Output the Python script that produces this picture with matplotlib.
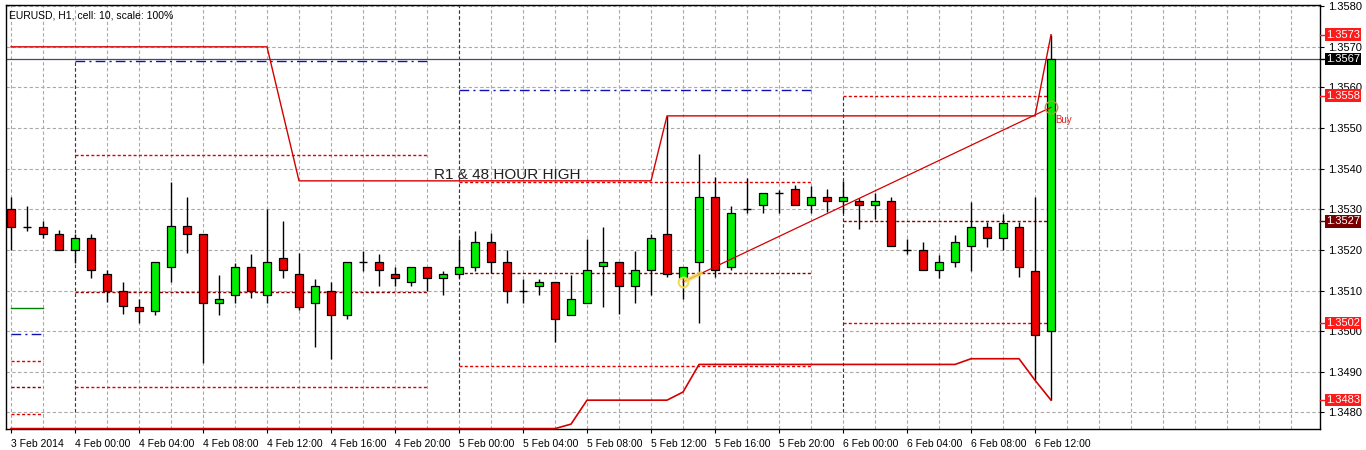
import matplotlib
matplotlib.use("Agg")
import matplotlib.pyplot as plt
from matplotlib.ticker import MultipleLocator, FormatStrFormatter

plt.rcParams['font.family'] = ['Liberation Sans', 'DejaVu Sans']

# EURUSD H1 candles, 3 Feb 20:00 .. 6 Feb 13:00 (one entry per hour)
opens = [1.35300, 1.35257, 1.35257, 1.35238, 1.35200, 1.35229, 1.35140, 1.35100, 1.35059, 1.35050,
         1.35159, 1.35259, 1.35239, 1.35069, 1.35089, 1.35159, 1.35089, 1.35180, 1.35140, 1.35069,
         1.35098, 1.35039, 1.35170, 1.35170, 1.35140, 1.35120, 1.35159, 1.35130, 1.35140, 1.35159,
         1.35219, 1.35170, 1.35099, 1.35111, 1.35120, 1.35039, 1.35069, 1.35161, 1.35170, 1.35111,
         1.35151, 1.35239, 1.35132, 1.35170, 1.35330, 1.35159, 1.35300, 1.35310, 1.35339, 1.35349,
         1.35310, 1.35330, 1.35320, 1.35320, 1.35310, 1.35320, 1.35200, 1.35200, 1.35151, 1.35170,
         1.35210, 1.35257, 1.35229, 1.35257, 1.35149, 1.35000]
highs = [1.35331, 1.35308, 1.35270, 1.35249, 1.35239, 1.35239, 1.35151, 1.35121, 1.35079, 1.35170,
         1.35368, 1.35331, 1.35239, 1.35139, 1.35167, 1.35190, 1.35300, 1.35270, 1.35192, 1.35129,
         1.35122, 1.35170, 1.35198, 1.35190, 1.35159, 1.35159, 1.35159, 1.35149, 1.35227, 1.35247,
         1.35241, 1.35200, 1.35129, 1.35128, 1.35120, 1.35139, 1.35227, 1.35256, 1.35170, 1.35198,
         1.35239, 1.35530, 1.35159, 1.35436, 1.35379, 1.35308, 1.35376, 1.35339, 1.35348, 1.35360,
         1.35358, 1.35349, 1.35370, 1.35327, 1.35339, 1.35330, 1.35226, 1.35219, 1.35188, 1.35237,
         1.35318, 1.35269, 1.35289, 1.35269, 1.35330, 1.35730]
lows = [1.35200, 1.35247, 1.35230, 1.35200, 1.35167, 1.35132, 1.35071, 1.35042, 1.35021, 1.35039,
        1.35120, 1.35192, 1.34921, 1.35039, 1.35069, 1.35081, 1.35069, 1.35132, 1.35052, 1.34960,
        1.34931, 1.35030, 1.35149, 1.35112, 1.35112, 1.35110, 1.35100, 1.35088, 1.35130, 1.35149,
        1.35143, 1.35070, 1.35069, 1.35089, 1.34973, 1.35039, 1.35069, 1.35059, 1.35042, 1.35069,
        1.35089, 1.35133, 1.35079, 1.35020, 1.35133, 1.35151, 1.35290, 1.35290, 1.35290, 1.35310,
        1.35290, 1.35294, 1.35290, 1.35251, 1.35276, 1.35210, 1.35189, 1.35151, 1.35130, 1.35159,
        1.35149, 1.35207, 1.35200, 1.35133, 1.34879, 1.34830]
closes = [1.35257, 1.35257, 1.35238, 1.35200, 1.35229, 1.35151, 1.35100, 1.35061, 1.35050, 1.35170,
          1.35259, 1.35239, 1.35069, 1.35079, 1.35159, 1.35100, 1.35170, 1.35151, 1.35059, 1.35110,
          1.35039, 1.35170, 1.35170, 1.35151, 1.35130, 1.35159, 1.35130, 1.35140, 1.35159, 1.35219,
          1.35170, 1.35098, 1.35099, 1.35120, 1.35030, 1.35079, 1.35151, 1.35170, 1.35111, 1.35151,
          1.35229, 1.35140, 1.35159, 1.35330, 1.35151, 1.35290, 1.35300, 1.35339, 1.35339, 1.35310,
          1.35330, 1.35320, 1.35330, 1.35310, 1.35320, 1.35210, 1.35200, 1.35151, 1.35170, 1.35219,
          1.35257, 1.35229, 1.35267, 1.35159, 1.34991, 1.35670]

# 48 hour high / low indicator lines
hour_high = [1.35700] * 17 + [1.35535] + [1.35370] * 23 + [1.35530] * 24 + [1.35730]
hour_low = [1.34760] * 35 + [1.34771] + [1.34830] * 6 + [1.34850] + [1.34918] * 17 \
    + [1.34932] * 4 + [1.34879, 1.34830]

# daily pivot levels (first / last candle index of each day)
day_start = [0, 4, 28, 52]
day_end = [2, 26, 50, 65]
r1_level = [1.34926, 1.35433, 1.35367, 1.35580]
pivot_level = [1.34863, 1.35096, 1.35142, 1.35270]
s1_level = [1.34795, 1.34863, 1.34915, 1.35020]
blue_level = [1.34992, 1.35665, 1.35594]
green_level = [1.35056]
day_sep = [4, 28, 52]

bid = 1.3567
trade_x = [42, 65]
trade_y = [1.35121, 1.35551]

tick_pos = list(range(0, 65, 4))
tick_text = ['3 Feb 2014', '4 Feb 00:00', '4 Feb 04:00', '4 Feb 08:00', '4 Feb 12:00',
             '4 Feb 16:00', '4 Feb 20:00', '5 Feb 00:00', '5 Feb 04:00', '5 Feb 08:00',
             '5 Feb 12:00', '5 Feb 16:00', '5 Feb 20:00', '6 Feb 00:00', '6 Feb 04:00',
             '6 Feb 08:00', '6 Feb 12:00']

tag_values = [1.3573, 1.3567, 1.3558, 1.3527, 1.3502, 1.3483]
tag_colors = ['#ff1a1a', '#000000', '#ff1a1a', '#7a0000', '#ff1a1a', '#ff1a1a']

RED = '#d40000'
MAROON = '#8b0000'

fig = plt.figure(figsize=(13.66, 4.5), dpi=100)
ax = fig.add_axes([6/1366, 21/450, 1314/1366, 424/450])
ax.set_xlim(-0.3125, 81.81)
ax.set_ylim(1.34759, 1.35803)

# grid
ax.xaxis.set_minor_locator(MultipleLocator(2))
ax.yaxis.set_major_locator(MultipleLocator(0.001))
ax.grid(True, which='both', axis='x', color='#a8a8a8', ls=(0, (3, 2.2)), lw=0.8)
ax.grid(True, which='major', axis='y', color='#a8a8a8', ls=(0, (3, 2.2)), lw=0.8)
ax.set_axisbelow(True)

# day separators
for d, top in zip(day_sep, [1.35665, 1.3580, 1.3558]):
    ax.vlines(d, 1.3480, top, color='#303060', ls=(0, (3, 2.2)), lw=0.8, zorder=1)

# pivot segments
for i in range(len(day_start)):
    xs = [day_start[i], day_end[i]]
    ax.plot(xs, [r1_level[i]] * 2, color='#e00000', ls=(0, (2.2, 1.6)), lw=1)
    ax.plot(xs, [pivot_level[i]] * 2, color=MAROON, ls=(0, (2.2, 1.6)), lw=1)
    ax.plot(xs, [s1_level[i]] * 2, color='#e00000', ls=(0, (2.2, 1.6)), lw=1)
for i in range(len(blue_level)):
    ax.plot([day_start[i], day_end[i]], [blue_level[i]] * 2, color='#1010b0',
            ls=(0, (7, 3, 1.5, 3)), lw=1)
for i in range(len(green_level)):
    ax.plot([day_start[i], day_end[i]], [green_level[i]] * 2, color='#008000', lw=1)

# bid line
ax.axhline(bid, color='#4a4a68', lw=0.9)

# candles
idx = list(range(len(opens)))
ax.vlines(idx, lows, highs, color='black', lw=1, zorder=3)
for i in idx:
    o, c = opens[i], closes[i]
    col = '#00ee00' if c > o else '#ee0000'
    if c == o:
        ax.hlines(o, i - 0.27, i + 0.27, color='black', lw=1, zorder=4)
    else:
        ax.bar(i, abs(c - o), bottom=min(o, c), width=0.52, color=col,
               edgecolor='black', lw=0.9, zorder=4)

# 48 hour high / low
ax.plot(idx, hour_high, color=RED, lw=1, zorder=5)
ax.plot(idx, hour_low, color=RED, lw=1.2, zorder=5, clip_on=False)

# trade line and markers
ax.plot(trade_x, trade_y, color=RED, lw=0.9, zorder=5)
ax.plot(trade_x[0], trade_y[0], 'o', mfc='none', mec='#f2dc50', ms=7, mew=1.5, zorder=6)
ax.plot([trade_x[0] + 0.2, trade_x[0] + 1.1], [trade_y[0] + 0.00004, trade_y[0] + 0.00021],
        color='#f2dc50', lw=3, alpha=0.8, zorder=6)
ax.plot(trade_x[1], trade_y[1], 'o', mfc='none', mec='#c89040', ms=9, mew=1, zorder=6)
ax.text(trade_x[1] + 0.25, 1.35520, 'Buy', color='#e02020', fontsize=7, va='center', zorder=7)

ax.text(26.44, 1.35375, 'R1 & 48 HOUR HIGH', color='#202020', fontsize=11, va='baseline')
ax.text(0.0023, 0.976, 'EURUSD, H1, cell: 10, scale: 100%', transform=ax.transAxes,
        fontsize=7.5, va='center', ha='left')

# axes
ax.yaxis.tick_right()
ax.yaxis.set_major_formatter(FormatStrFormatter('%.4f'))
ax.tick_params(axis='y', which='major', direction='out', length=3, pad=3, labelsize=8)
ax.tick_params(axis='x', which='minor', length=0)
ax.set_xticks(tick_pos)
ax.set_xticklabels(tick_text, ha='left')
ax.tick_params(axis='x', which='major', direction='out', length=3, pad=4, labelsize=7.5)
for s in ax.spines.values():
    s.set_color('black')
    s.set_linewidth(1)

# price tags on the right scale
for v, c in zip(tag_values, tag_colors):
    ax.plot([1.0, 1.0045], [v, v], transform=ax.get_yaxis_transform(), color=c,
            lw=1, clip_on=False, zorder=8)
    ax.text(1.0045, v, '%.4f' % v, transform=ax.get_yaxis_transform(), color='white',
            fontsize=8, va='center', ha='left', zorder=9, clip_on=False,
            bbox=dict(boxstyle='square,pad=0.12', fc=c, ec='none'))

fig.savefig('out.png', dpi=100, facecolor='white')
